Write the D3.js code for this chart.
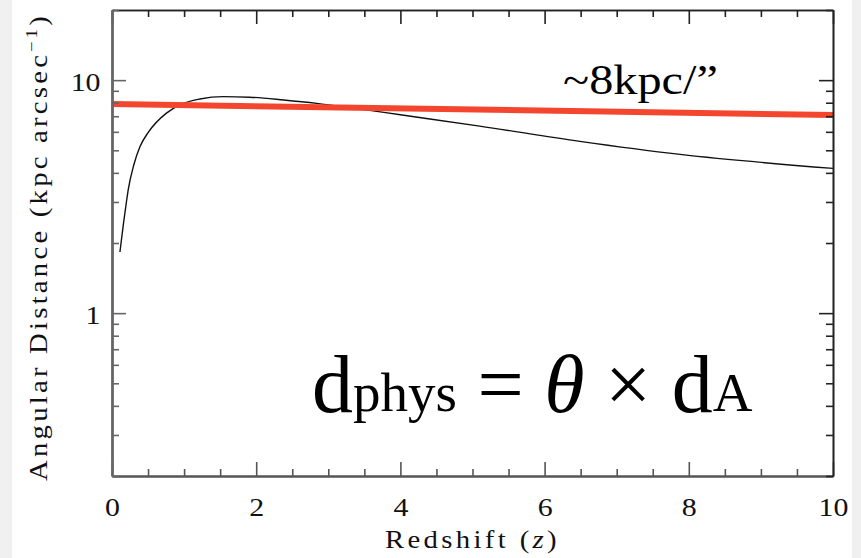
<!DOCTYPE html>
<html><head><meta charset="utf-8">
<script src="https://cdn.jsdelivr.net/npm/d3@7"></script>
<style>
html,body{margin:0;padding:0;background:#f0f0f0;}
svg{display:block;}
</style></head>
<body>
<svg id="c" width="861" height="558"></svg>
<script>
// ---- data ----
const redshift = [0.11, 0.157, 0.2, 0.226, 0.3, 0.39, 0.5, 0.75, 0.95, 1.22, 1.54, 1.91, 2.38, 2.84, 3.3, 4.0, 5.1, 6.49, 7.88, 10.0];
const angScale = [1.83, 2.4, 3.0, 3.4, 4.3, 5.2, 5.95, 7.2, 7.85, 8.3, 8.5, 8.45, 8.22, 7.95, 7.62, 7.1, 6.35, 5.46, 4.8, 4.18];
const refZ = [0, 10];
const refVal = [7.9, 7.08];
const xMajor = [0, 2, 4, 6, 8, 10];
const xMinor = [0.5, 1, 1.5, 2.5, 3, 3.5, 4.5, 5, 5.5, 6.5, 7, 7.5, 8.5, 9, 9.5];
const yMajor = [1, 10];
const yMinor = [0.2, 0.3, 0.4, 0.5, 0.6, 0.7, 0.8, 0.9, 2, 3, 4, 5, 6, 7, 8, 9, 20];
const xTitle = "Redshift (";
const yTitle = "Angular Distance (kpc arcsec";
const note = "~8kpc/\u201D";

const svg = d3.select("#c");
const L = 112, R = 833, T = 10, B = 476;
const x = d3.scaleLinear().domain([0, 10]).range([L, R]);
const y = d3.scaleLog().domain([0.2, 20]).range([B, T]);
const tickFont = "Liberation Serif, serif";
const SX = 1.15; // horizontal stretch to mimic the wide plotting font

svg.append("rect").attr("x", 12).attr("y", 0).attr("width", 840).attr("height", 558).attr("fill", "#fff");

// curve
const line = d3.line().x(d => x(d[0])).y(d => y(d[1])).curve(d3.curveMonotoneX);
svg.append("path").datum(redshift.map((z, i) => [z, angScale[i]]))
  .attr("d", line).attr("fill", "none").attr("stroke", "#111").attr("stroke-width", 1.4);

// red reference line
svg.append("path").datum(refZ.map((z, i) => [z, refVal[i]]))
  .attr("d", d3.line().x(d => x(d[0])).y(d => y(d[1])))
  .attr("stroke", "#f4462f").attr("stroke-width", 6).attr("fill", "none");

// axes
function styleAxis(g, col, w) {
  g.select(".domain").attr("stroke", col).attr("stroke-width", w);
  g.selectAll(".tick line").attr("stroke", col).attr("stroke-width", 1.6);
  g.selectAll("text").attr("font-family", tickFont).attr("font-size", 26).attr("fill", "#111")
    .attr("transform", `scale(${SX},1)`);
}
const gB = svg.append("g").attr("transform", `translate(0,${B})`)
  .call(d3.axisBottom(x).tickValues(xMajor).tickSize(-14).tickPadding(22).tickSizeOuter(0).tickFormat(d3.format("d")));
styleAxis(gB, "#555", 2.2);
const gBm = svg.append("g").attr("transform", `translate(0,${B})`)
  .call(d3.axisBottom(x).tickValues(xMinor).tickSize(-7).tickSizeOuter(0).tickFormat(""));
styleAxis(gBm, "#555", 2.2);

const gT = svg.append("g").attr("transform", `translate(0,${T})`)
  .call(d3.axisTop(x).tickValues(xMajor).tickSize(-14).tickSizeOuter(0).tickFormat(""));
styleAxis(gT, "#222", 1.6);
const gTm = svg.append("g").attr("transform", `translate(0,${T})`)
  .call(d3.axisTop(x).tickValues(xMinor).tickSize(-7).tickSizeOuter(0).tickFormat(""));
styleAxis(gTm, "#222", 1.6);

const gL = svg.append("g").attr("transform", `translate(${L},0)`)
  .call(d3.axisLeft(y).tickValues(yMajor).tickSize(-14).tickPadding(10).tickSizeOuter(0).tickFormat(d3.format("d")));
styleAxis(gL, "#666", 2.4);
gL.selectAll("text").attr("dy", "0.4em");
const gLm = svg.append("g").attr("transform", `translate(${L},0)`)
  .call(d3.axisLeft(y).tickValues(yMinor).tickSize(-7).tickSizeOuter(0).tickFormat(""));
styleAxis(gLm, "#666", 2.4);

const gR = svg.append("g").attr("transform", `translate(${R},0)`)
  .call(d3.axisRight(y).tickValues(yMajor).tickSize(-14).tickSizeOuter(0).tickFormat(""));
styleAxis(gR, "#222", 1.6);
const gRm = svg.append("g").attr("transform", `translate(${R},0)`)
  .call(d3.axisRight(y).tickValues(yMinor).tickSize(-7).tickSizeOuter(0).tickFormat(""));
styleAxis(gRm, "#222", 1.6);

function fitWidth(t, target) {
  const n = t.text().length;
  const w = t.node().getComputedTextLength();
  t.attr("letter-spacing", (target - w) / n);
}

// x title
const xt = svg.append("text").attr("transform", `translate(385,548) scale(${SX},1)`)
  .attr("font-family", tickFont).attr("font-size", 25).attr("fill", "#111");
xt.append("tspan").text(xTitle);
xt.append("tspan").attr("font-style", "italic").text("z");
xt.append("tspan").text(")");
fitWidth(xt, 175 / SX);

// y title
const yt = svg.append("text").attr("transform", `translate(47,481) rotate(-90) scale(${SX},1)`)
  .attr("font-family", tickFont).attr("font-size", 25).attr("fill", "#111");
yt.append("tspan").text(yTitle);
yt.append("tspan").attr("font-size", 16).attr("dy", -10).text("\u22121");
yt.append("tspan").attr("dy", 10).text(")");
fitWidth(yt, 468 / SX);

// annotation
svg.append("text").attr("transform", "translate(563,94) scale(1.15,1)")
  .attr("font-family", "Liberation Serif, Times New Roman, serif").attr("font-size", 42).attr("fill", "#000")
  .text(note);

// formula
const f = svg.append("text").attr("x", 312).attr("y", 412)
  .attr("font-family", "Liberation Serif, Times New Roman, serif").attr("font-size", 82).attr("fill", "#000");
f.append("tspan").text("d");
f.append("tspan").attr("font-size", 55).attr("dy", -1).text("phys");
f.append("tspan").attr("dy", 1).text(" = ");
f.append("tspan").attr("font-style", "italic").text("\u03B8");
f.append("tspan").text(" \u00D7 d");
f.append("tspan").attr("font-size", 55).attr("dy", -1).text("A");
</script>
</body></html>
